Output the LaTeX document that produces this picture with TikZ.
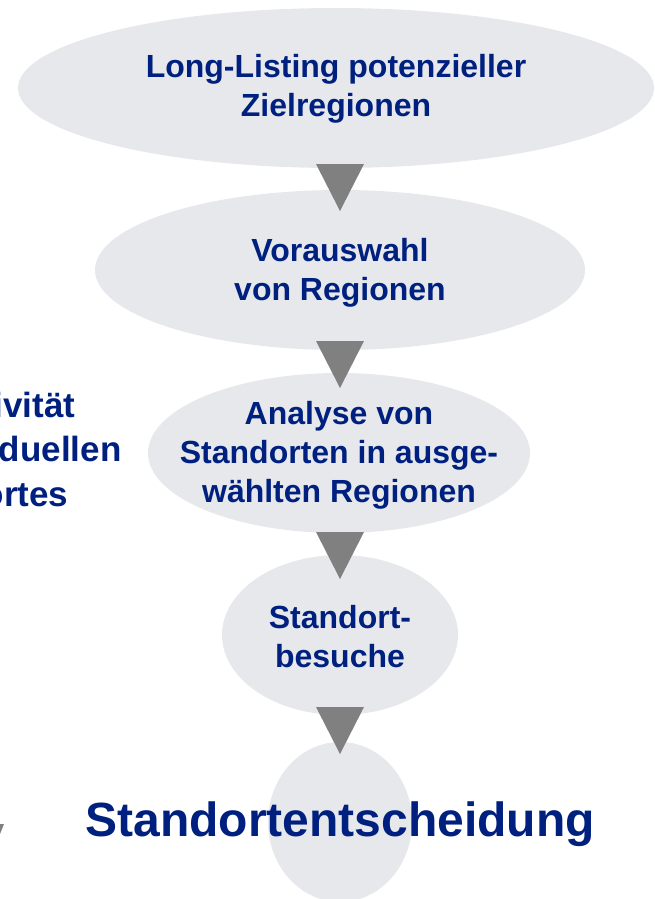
\documentclass[tikz,border=0pt]{standalone}
\usepackage{fontspec}
\setmainfont{Liberation Sans}
\usetikzlibrary{shapes.geometric, positioning, calc}
\definecolor{stagegray}{HTML}{E7E8EC}
\definecolor{arrowgray}{HTML}{808080}
\definecolor{navyblue}{HTML}{00207F}

\begin{document}
\begin{tikzpicture}[x=1pt, y=-1pt,
    stage/.style={ellipse, fill=stagegray, inner sep=0pt},
    stagelabel/.style={align=center, text=navyblue, font=\bfseries\fontsize{32}{39}\selectfont},
    sidelabel/.style={anchor=base east, text=navyblue, font=\bfseries\fontsize{35}{45}\selectfont},
    funnelhead/.style={fill=arrowgray}]
    \useasboundingbox (0,0) rectangle (654,899);
    \clip (0,0) rectangle (654,899);

    % Funnel stages
    \node[stage, minimum width=636pt, minimum height=160pt] (longlist) at (336,88) {};
    \node[stage, minimum width=490pt, minimum height=160pt] (preselect) at (340,270) {};
    \node[stage, minimum width=382pt, minimum height=160pt] (analysis) at (339,453) {};
    \node[stage, minimum width=236pt, minimum height=160pt] (visits) at (340,635) {};
    \node[stage, minimum width=144pt, minimum height=160pt] (decision) at (340,822) {};

    % Arrow heads between the stages
    \foreach \top in {164, 341, 532, 707}
        \fill[funnelhead] (316,\top) -- (364,\top) -- (340,{\top+47}) -- cycle;

    % Stage texts
    \node[stagelabel] (longlisttext) at ($(longlist.center)+(0,1)$) {Long-Listing potenzieller\\Zielregionen};
    \node[stagelabel] (preselecttext) at ($(preselect.center)+(0,3)$) {Vorauswahl\\von Regionen};
    \node[stagelabel] (analysistext) at ($(analysis.center)+(0,2)$) {Analyse von\\Standorten in ausge-\\wählten Regionen};
    \node[stagelabel] (visitstext) at ($(visits.center)+(0,2)$) {Standort-\\besuche};
    \node[text=navyblue, font=\bfseries\fontsize{48}{58}\selectfont] (decisiontext) at ($(decision.center)+(0,2)$) {Standortentscheidung};

    % Cut-off text on the left
    \node[sidelabel] (sideone) at (79,417) {ivität};
    \node[sidelabel] (sidetwo) at (125,461) {duellen};
    \node[sidelabel] (sidethree) at (72,506) {ortes};
    \fill[funnelhead] (0,824) -- (4,824) -- (0,834) -- cycle;
\end{tikzpicture}
\end{document}
